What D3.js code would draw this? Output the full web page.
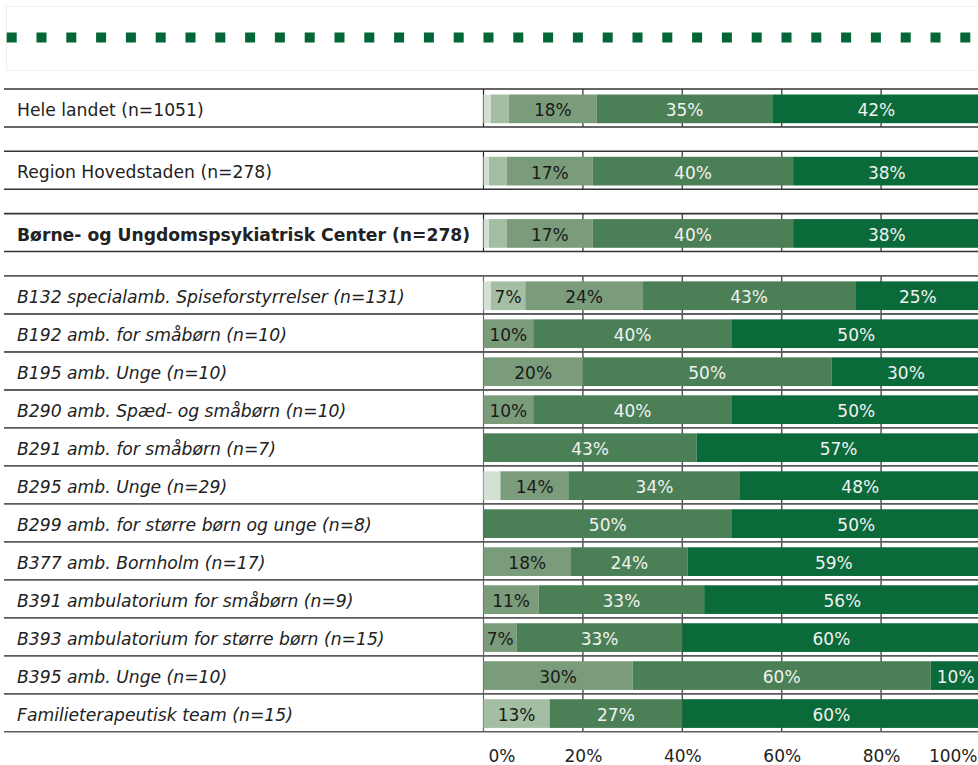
<!DOCTYPE html>
<html lang="da">
<head>
<meta charset="UTF-8">
<title>Børne- og Ungdomspsykiatrisk Center</title>
<script src="https://d3js.org/d3.v7.min.js"></script>
<style>
    body { margin: 0; background: #fff; }
    svg { display: block; font-family: "DejaVu Sans", Verdana, sans-serif; }
</style>
</head>
<body>
<div id="chart"></div>
<script>
    // Units (rows), top to bottom
    const units = [
        "Hele landet (n=1051)",
        "Region Hovedstaden (n=278)",
        "Børne- og Ungdomspsykiatrisk Center (n=278)",
        "B132 specialamb. Spiseforstyrrelser (n=131)",
        "B192 amb. for småbørn (n=10)",
        "B195 amb. Unge (n=10)",
        "B290 amb. Spæd- og småbørn (n=10)",
        "B291 amb. for småbørn (n=7)",
        "B295 amb. Unge (n=29)",
        "B299 amb. for større børn og unge (n=8)",
        "B377 amb. Bornholm (n=17)",
        "B391 ambulatorium for småbørn (n=9)",
        "B393 ambulatorium for større børn (n=15)",
        "B395 amb. Unge (n=10)",
        "Familieterapeutisk team (n=15)"
    ];

    // Answer shares in percent, lightest to darkest
    const answer1 = [1.5, 1.1, 1.1, 1.5, 0, 0, 0, 0, 3.4, 0, 0, 0, 0, 0, 0];
    const answer2 = [3.6, 3.6, 3.6, 6.9, 0, 0, 0, 0, 0, 0, 0, 0, 0, 0, 13.3];
    const answer3 = [17.7, 17.3, 17.3, 23.7, 10, 20, 10, 0, 13.8, 0, 17.6, 11.1, 6.7, 30, 0];
    const answer4 = [35.3, 40.3, 40.3, 42.7, 40, 50, 40, 42.9, 34.4, 50, 23.5, 33.3, 33.3, 60, 26.7];
    const answer5 = [41.9, 37.7, 37.7, 25.2, 50, 30, 50, 57.1, 48.4, 50, 58.8, 55.6, 60, 10, 60];

    const tickValues = [0, 20, 40, 60, 80, 100];

    const keys = ["a1", "a2", "a3", "a4", "a5"];
    const colors = ["#d5e0d5", "#a3bea3", "#7a9c7a", "#4b7f55", "#0b6a3a"];
    const labelColors = ["#1a1a1a", "#1a1a1a", "#1a1a1a", "#f2f2f2", "#f2f2f2"];

    const table = units.map((u, i) => ({
        unit: u, a1: answer1[i], a2: answer2[i], a3: answer3[i], a4: answer4[i], a5: answer5[i]
    }));
    const stacked = d3.stack().keys(keys)(table);

    const width = 978, height = 765;
    const svg = d3.select("#chart").append("svg")
        .attr("width", width)
        .attr("height", height);

    // banner with the dotted green line
    svg.append("rect")
        .attr("x", 6.5).attr("y", 6.5)
        .attr("width", 990).attr("height", 64)
        .attr("fill", "none")
        .attr("stroke", "#efefef");
    svg.append("line")
        .attr("x1", 6.7).attr("x2", 975)
        .attr("y1", 37.5).attr("y2", 37.5)
        .attr("stroke", "#036636")
        .attr("stroke-width", 10)
        .attr("stroke-dasharray", "10 19.8");

    // row layout: 3 summary rows with gaps, then the unit rows
    const headerCount = 3, gapRatio = 0.64;
    const slot = i => i < headerCount ? i * (1 + gapRatio) : headerCount * (1 + gapRatio) + (i - headerCount);
    const y = d3.scaleLinear().domain([0, slot(units.length)]).range([89, 731.7]);
    const rowTop = i => y(slot(i));
    const rowBottom = i => y(slot(i) + 1);

    const x = d3.scaleLinear().domain([0, 100]).range([483.5, 980.5]);

    const barOffset = 5.5, barHeight = 28.7;

    const rows = svg.append("g");

    // grid lines inside each row
    units.forEach((u, i) => {
        const g = rows.append("g");
        g.selectAll("line.grid")
            .data(tickValues.slice(1, -1))
            .enter().append("line")
            .attr("x1", d => x(d)).attr("x2", d => x(d))
            .attr("y1", rowTop(i)).attr("y2", rowBottom(i))
            .attr("stroke", "#555")
            .attr("stroke-width", 1.5);
        g.append("line")
            .attr("x1", x(0)).attr("x2", x(0))
            .attr("y1", rowTop(i)).attr("y2", rowBottom(i))
            .attr("stroke", i < headerCount ? "#222" : "#666")
            .attr("stroke-width", 1.2);
    });

    // stacked bars
    const series = svg.append("g")
        .selectAll("g")
        .data(stacked)
        .enter().append("g")
        .attr("fill", (d, i) => colors[i]);

    series.selectAll("rect")
        .data(d => d.filter(p => p[1] - p[0] > 0).map(p => Object.assign(p, { row: table.indexOf(p.data) })))
        .enter().append("rect")
        .attr("x", d => x(d[0]))
        .attr("y", d => rowTop(d.row) + barOffset)
        .attr("width", d => x(d[1]) - x(d[0]))
        .attr("height", barHeight);

    // value labels
    stacked.forEach((s, k) => {
        svg.append("g")
            .selectAll("text")
            .data(s.filter(p => p[1] - p[0] >= 5))
            .enter().append("text")
            .attr("x", d => (x(d[0]) + x(d[1])) / 2)
            .attr("y", d => rowTop(table.indexOf(d.data)) + barOffset + barHeight / 2 + 7.5)
            .attr("text-anchor", "middle")
            .attr("fill", labelColors[k])
            .style("font-size", "17px")
            .text(d => Math.round(d[1] - d[0]) + "%");
    });

    // horizontal row borders
    units.forEach((u, i) => {
        const header = i < headerCount;
        [rowTop(i), rowBottom(i)].forEach(yy => {
            rows.append("line")
                .attr("x1", 4).attr("x2", width)
                .attr("y1", yy).attr("y2", yy)
                .attr("stroke", header ? "#333" : "#5c5c5c")
                .attr("stroke-width", header ? 1.6 : 1.6);
        });
    });

    // row labels
    svg.append("g")
        .selectAll("text")
        .data(units)
        .enter().append("text")
        .attr("x", 17)
        .attr("y", (d, i) => rowTop(i) + 27)
        .attr("fill", "#222")
        .style("font-size", "17.2px")
        .style("font-weight", (d, i) => i === 2 ? "bold" : "normal")
        .style("font-style", (d, i) => i >= headerCount ? "italic" : "normal")
        .text(d => d);

    // percentage axis
    const axis = svg.append("g")
        .attr("transform", "translate(0,747)")
        .call(d3.axisBottom(x).tickValues(tickValues).tickFormat(d => d + "%").tickSize(0).tickPadding(3));
    axis.select(".domain").remove();
    axis.selectAll("text")
        .attr("fill", "#222")
        .style("font-size", "17px")
        .style("font-family", "'DejaVu Sans', Verdana, sans-serif");
    axis.selectAll(".tick").filter(d => d === 0).select("text")
        .attr("text-anchor", "start").attr("x", 4.5);
    axis.selectAll(".tick").filter(d => d === 100).select("text")
        .attr("text-anchor", "end").attr("x", -3.5);
</script>
</body>
</html>
